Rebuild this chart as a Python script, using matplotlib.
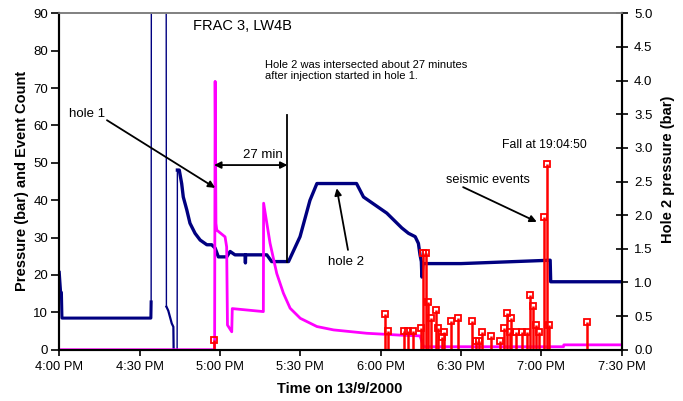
import numpy as np
import matplotlib
matplotlib.use('Agg')
import matplotlib.pyplot as plt

plt.rcParams['font.family'] = ['Liberation Sans', 'DejaVu Sans']

# x axis: minutes after 4:00 PM on 13/9/2000
tick_minutes = [0, 30, 60, 90, 120, 150, 180, 210]
tick_labels = ['4:00 PM', '4:30 PM', '5:00 PM', '5:30 PM',
               '6:00 PM', '6:30 PM', '7:00 PM', '7:30 PM']

# hole 1 pressure (bar) - left axis
hole1_t = [0, 58.0, 58.2, 58.5, 58.8, 61.9, 62.5, 62.8, 64.4, 64.6, 76.2, 76.3,
           78.7, 81.2, 83.7, 86.2, 90.0, 96.2, 102.4, 114.8, 127.3, 134.7, 136.0,
           188.3, 188.4, 210]
hole1_p = [0, 0, 71.8, 33.8, 32.0, 30.2, 27.5, 6.6, 4.8, 11.0, 10.2, 39.2,
           28.5, 20.4, 15.1, 11.1, 8.4, 6.2, 5.3, 4.4, 3.9, 3.7, 0.8,
           0.8, 1.3, 1.3]

# hole 2 pressure (bar) - right axis
hole2_t = [0, 0.5, 0.8, 1.0, 34.2, 34.3, 34.4, 39.9, 40.0, 40.7, 42.0, 42.6,
           42.7, 44.0, 44.1, 44.8, 45.7, 46.3, 47.6, 48.8, 50.7, 52.6, 55.1,
           56.9, 58.2, 59.4, 62.5, 63.8, 65.6, 69.4, 69.5, 69.6, 77.5, 79.3,
           85.6, 89.9, 93.6, 96.2, 111.0, 113.6, 122.3, 127.9, 130.4, 132.9,
           134.1, 134.7, 135.2, 135.4, 135.8, 150, 170, 183.3, 183.5, 210]
hole2_p = [1.15, 0.86, 0.85, 0.47, 0.47, 0.71, 6.7, 6.7, 0.64, 0.58, 0.39, 0.34,
           0.0, 0.0, 2.67, 2.67, 2.47, 2.27, 2.08, 1.88, 1.73, 1.63, 1.56,
           1.56, 1.51, 1.38, 1.38, 1.46, 1.41, 1.41, 1.29, 1.41, 1.41, 1.31,
           1.31, 1.68, 2.22, 2.47, 2.47, 2.27, 2.03, 1.81, 1.73, 1.68,
           1.58, 1.41, 1.31, 1.08, 1.28, 1.28, 1.31, 1.33, 1.01, 1.01]

# seismic events (event count) - left axis
event_t = [57.8, 121.7, 122.9, 128.9, 130.4, 132.0, 135.0, 136.0, 136.9, 137.5,
           138.9, 140.7, 141.6, 142.8, 143.8, 146.2, 149.0, 154.1, 155.6, 156.8,
           158.0, 161.2, 164.6, 165.9, 167.1, 168.4, 168.7, 170.6, 172.7, 174.6,
           175.8, 176.8, 178.0, 179.2, 181.1, 182.1, 182.8, 197.0]
event_n = [2.6, 9.5, 5.0, 5.0, 5.0, 5.0, 5.7, 25.8, 25.8, 12.8,
           8.4, 10.6, 5.7, 3.3, 4.8, 7.8, 8.4, 7.7, 2.4, 2.4,
           4.8, 3.7, 2.4, 5.7, 9.7, 4.8, 8.6, 4.8, 4.8, 4.8,
           14.6, 11.7, 6.6, 4.8, 35.4, 49.7, 6.6, 7.5]

fig = plt.figure(figsize=(6.83, 4.01), dpi=100)
ax = fig.add_axes([0.0868, 0.1279, 0.8234, 0.8389])
ax2 = ax.twinx()
ax.set_zorder(ax2.get_zorder() + 1)
ax.patch.set_visible(False)

navy = '#000080'
# the fast jumps were logged with few samples, so they show as thin lines
ax2.plot(hole2_t[:6], hole2_p[:6], color=navy, lw=2.2)
ax2.plot(hole2_t[5:9], hole2_p[5:9], color=navy, lw=1.0)
ax2.plot(hole2_t[8:13], hole2_p[8:13], color=navy, lw=1.6)
ax2.plot(hole2_t[12:15], hole2_p[12:15], color=navy, lw=1.0)
ax2.plot(hole2_t[14:], hole2_p[14:], color=navy, lw=2.4)

ax.plot(hole1_t, hole1_p, color='#ff00ff', lw=2.0)
ax.vlines(event_t, 0, event_n, color='red', lw=1.8)
ax.plot(event_t, event_n, 's', ls='none', ms=4, mfc='none', mec='red', mew=1.3)

ax.set_xlim(0, 210)
ax.set_ylim(0, 90)
ax2.set_ylim(0, 5)
ax.set_xticks(tick_minutes)
ax.set_xticklabels(tick_labels)
ax.set_yticks(np.arange(0, 91, 10))
ax2.set_yticks(np.arange(0, 5.01, 0.5))
ax2.set_yticklabels(['%.1f' % v for v in np.arange(0, 5.01, 0.5)])

ax.tick_params(axis='x', direction='out', length=4, width=1.2, pad=4, labelsize=9.3)
ax.tick_params(axis='y', direction='out', length=6, width=1.2, pad=2, labelsize=9.5)
ax2.tick_params(axis='y', direction='inout', length=8, width=1.2, pad=5, labelsize=9.5)

for a in (ax, ax2):
    for s in ('left', 'bottom', 'right'):
        a.spines[s].set_color('black')
        a.spines[s].set_linewidth(1.5)
    a.spines['top'].set_color('#808080')
    a.spines['top'].set_linewidth(1.2)

fig.text(22 / 683, 1 - 181 / 401, 'Pressure (bar) and Event Count', rotation=90,
         ha='center', va='center', fontsize=10.5, fontweight='bold')
fig.text(668 / 683, 1 - 169 / 401, 'Hole 2 pressure (bar)', rotation=90,
         ha='center', va='center', fontsize=10.5, fontweight='bold')
fig.text(340 / 683, 1 - 389 / 401, 'Time on 13/9/2000',
         ha='center', va='center', fontsize=10.5, fontweight='bold')

# annotations
ax.text(49.9, 86.6, 'FRAC 3, LW4B', fontsize=10.5, ha='left', va='center')
ax.text(76.9, 74.8, 'Hole 2 was intersected about 27 minutes\nafter injection started in hole 1.',
        fontsize=8, ha='left', va='center', linespacing=1.15)
arrow = dict(arrowstyle='-|>', color='black', lw=1.3, mutation_scale=10, shrinkA=0, shrinkB=0)

ax.text(10.2, 63.0, 'hole 1', fontsize=9.5, ha='center', va='center')
ax.annotate('', xy=(58.2, 43.3), xytext=(17.8, 61.4), arrowprops=arrow)

ax.annotate('', xy=(57.8, 49.4), xytext=(85.2, 49.4),
            arrowprops=dict(arrowstyle='<|-|>', color='black', lw=1.3,
                            mutation_scale=10, shrinkA=0, shrinkB=0))
ax.text(76.1, 52.1, '27 min', fontsize=9.5, ha='center', va='center')
ax.plot([85.2, 85.2], [23.5, 62.8], color='black', lw=1.3)

ax.text(106.9, 23.5, 'hole 2', fontsize=9.5, ha='center', va='center')
ax.annotate('', xy=(103.6, 43.2), xytext=(107.8, 26.7), arrowprops=arrow)

ax.text(181.3, 54.8, 'Fall at 19:04:50', fontsize=8.8, ha='center', va='center')
ax.text(160.0, 45.4, 'seismic events', fontsize=9.2, ha='center', va='center')
ax.annotate('', xy=(178.3, 34.2), xytext=(150.8, 43.5), arrowprops=arrow)

fig.savefig('out.png', dpi=100)
